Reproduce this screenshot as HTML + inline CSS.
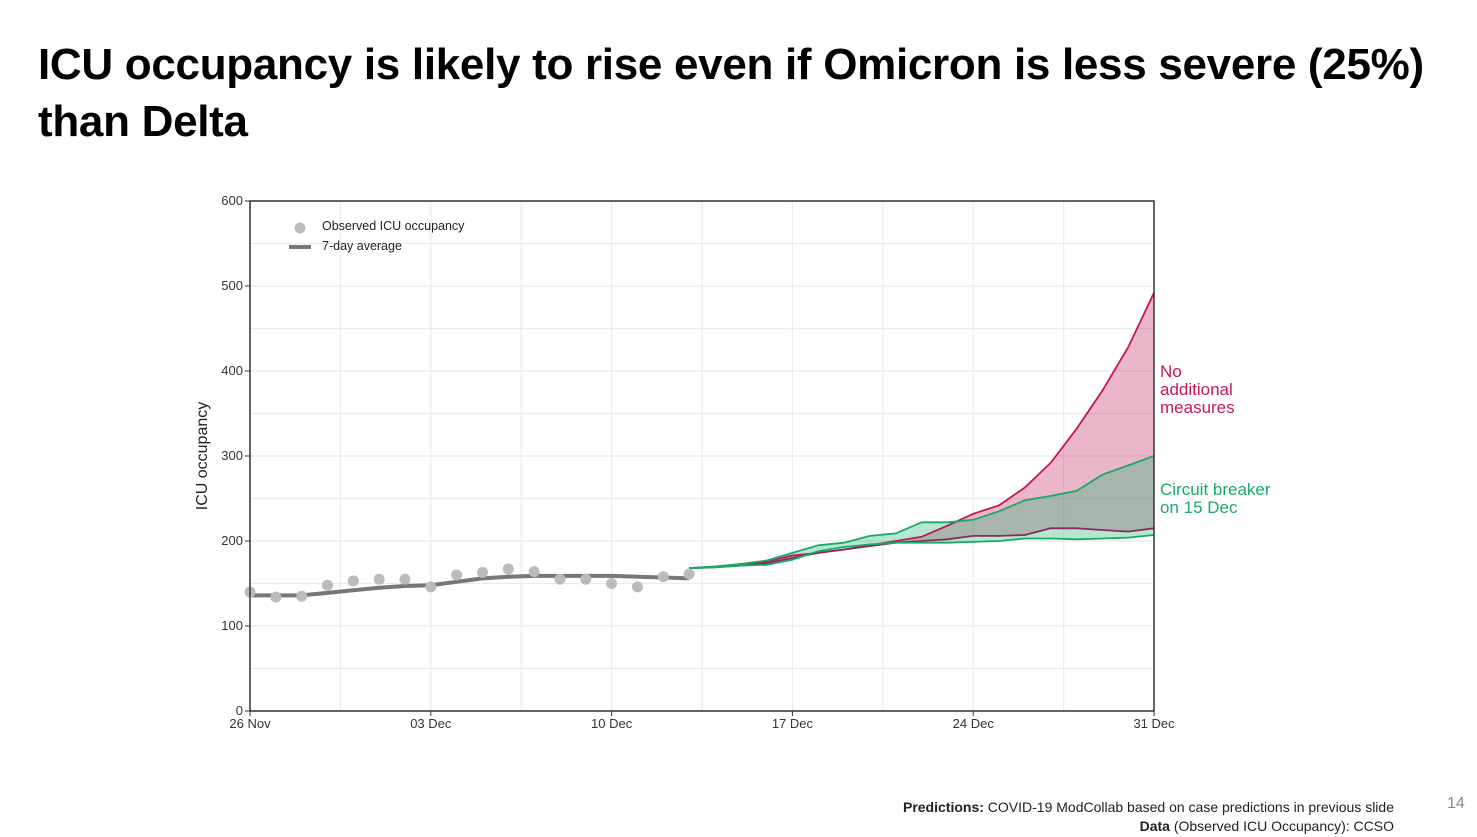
<!DOCTYPE html>
<html><head><meta charset="utf-8"><style>
html,body{margin:0;padding:0;background:#fff;}
body{width:1477px;height:837px;overflow:hidden;position:relative;font-family:"Liberation Sans",sans-serif;}
.title{position:absolute;left:38px;top:36px;font-size:44px;font-weight:bold;line-height:57px;color:#000;letter-spacing:-0.3px;}
.foot{position:absolute;right:83px;font-size:14px;color:#222;text-align:right;}
</style></head><body>
<div class="title">ICU occupancy is likely to rise even if Omicron is less severe (25%)<br>than Delta</div>
<svg id="c" width="1477" height="837" style="position:absolute;left:0;top:0" xmlns="http://www.w3.org/2000/svg"></svg>
<div class="foot" style="top:799px"><b>Predictions:</b> COVID-19 ModCollab based on case predictions in previous slide</div>
<div class="foot" style="top:818px"><b>Data</b> (Observed ICU Occupancy): CCSO</div>
<div style="position:absolute;left:1447px;top:795px;font-size:16px;color:#888">14</div>
<script>
var X=function(d){return 250+25.83*d;},Y=function(v){return 711-0.85*v;};
var s='';
// grid
for(var v=0;v<=600;v+=50){s+='<line x1="250" x2="1154" y1="'+Y(v)+'" y2="'+Y(v)+'" stroke="#ebebeb" stroke-width="1.2"/>';}
for(var d=3.5;d<35;d+=3.5){s+='<line y1="201" y2="711" x1="'+X(d)+'" x2="'+X(d)+'" stroke="#ebebeb" stroke-width="1.2"/>';}
function pts(a,start){return a.map(function(v,i){return X(start+i).toFixed(1)+','+Y(v).toFixed(1);});}
var pu=[168,170,173,176,183,186,190,195,200,205,218,232,242,263,292,332,377,428,492];
var pl=[168,169,171,174,180,186,190,194,198,200,202,206,206,207,215,215,213,211,215,215];
pl=pl.slice(0,19);
var gu=[168,170,173,177,186,195,198,206,209,222,222,225,235,248,253,259,278,289,300];
var gl=[168,169,171,172,178,188,193,196,198,198,198,199,200,203,203,202,203,204,207];
s+='<polygon points="'+pts(pu,17).concat(pts(pl,17).reverse()).join(' ')+'" fill="rgba(194,24,91,0.32)"/>';
s+='<polygon points="'+pts(gu,17).concat(pts(gl,17).reverse()).join(' ')+'" fill="rgba(29,181,111,0.33)"/>';
s+='<polyline points="'+pts(pu,17).join(' ')+'" fill="none" stroke="#c2185b" stroke-width="1.8"/>';
s+='<polyline points="'+pts(pl,17).join(' ')+'" fill="none" stroke="#8a2a5a" stroke-width="1.8"/>';
s+='<polyline points="'+pts(gu,17).join(' ')+'" fill="none" stroke="#1aaa66" stroke-width="1.8"/>';
s+='<polyline points="'+pts(gl,17).join(' ')+'" fill="none" stroke="#1aaa66" stroke-width="1.8"/>';
var obs=[140,134,135,148,153,155,155,146,160,163,167,164,155,155,150,146,158,161];
var avg=[136,136,136,139,142,145,147,148,152,156,158,159,159,159,159,158,157,156];
s+='<polyline points="'+pts(avg,0).join(' ')+'" fill="none" stroke="#777" stroke-width="4"/>';
obs.forEach(function(v,i){s+='<circle cx="'+X(i)+'" cy="'+Y(v)+'" r="5.5" fill="#bbb"/>';});
// axes
s+='<rect x="250" y="201" width="904" height="510" fill="none" stroke="#333" stroke-width="1.5"/>';
for(var v=0;v<=600;v+=100){s+='<line x1="245" x2="250" y1="'+Y(v)+'" y2="'+Y(v)+'" stroke="#333"/><text x="243" y="'+(Y(v)+4)+'" font-size="13" fill="#333" text-anchor="end">'+v+'</text>';}
var lab=['26 Nov','03 Dec','10 Dec','17 Dec','24 Dec','31 Dec'];
lab.forEach(function(l,i){var x=X(i*7);s+='<line x1="'+x+'" x2="'+x+'" y1="711" y2="716" stroke="#333"/><text x="'+x+'" y="728" font-size="13" fill="#333" text-anchor="middle">'+l+'</text>';});
s+='<text transform="translate(207,456) rotate(-90)" font-size="16" fill="#222" text-anchor="middle">ICU occupancy</text>';
// legend
s+='<circle cx="300" cy="228" r="5.5" fill="#bbb"/><text x="322" y="230" font-size="12.5" fill="#222">Observed ICU occupancy</text>';
s+='<line x1="289" x2="311" y1="247" y2="247" stroke="#777" stroke-width="4"/><text x="322" y="250" font-size="12.5" fill="#222">7-day average</text>';
// annotations
s+='<text font-size="17" fill="#c2185b"><tspan x="1160" y="377">No</tspan><tspan x="1160" y="395">additional</tspan><tspan x="1160" y="413">measures</tspan></text>';
s+='<text font-size="17" fill="#1aaa66"><tspan x="1160" y="495">Circuit breaker</tspan><tspan x="1160" y="513">on 15 Dec</tspan></text>';
document.getElementById('c').innerHTML=s;
</script>
</body></html>
